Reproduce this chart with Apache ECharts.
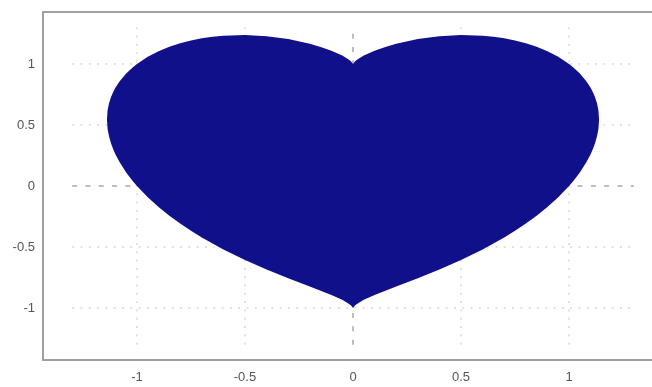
<!DOCTYPE html>
<html>
<head>
<meta charset="utf-8">
<script src="https://cdn.jsdelivr.net/npm/echarts@6/dist/echarts.min.js"></script>
<style>
html,body{margin:0;padding:0;background:#fff;}
#chart{width:652px;height:387px;}
</style>
</head>
<body>
<div id="chart"></div>
<script>
// Heart outline: right upper, right lower, left lower, left upper
const heartX = [
  0, 0.01, 0.02, 0.05, 0.1, 0.15, 0.2, 0.3, 0.4, 0.5, 0.6, 0.65, 0.7, 0.75, 0.8, 0.85, 0.9, 0.95, 1.0, 1.02, 1.05, 1.08, 1.1, 1.11, 1.12, 1.13, 1.136, 1.139,
  1.136, 1.13, 1.12, 1.11, 1.1, 1.08, 1.05, 1.02, 1.0, 0.95, 0.9, 0.85, 0.8, 0.75, 0.7, 0.65, 0.6, 0.5, 0.4, 0.3, 0.2, 0.15, 0.1, 0.05, 0.02, 0.01, 0,
  -0.01, -0.02, -0.05, -0.1, -0.15, -0.2, -0.3, -0.4, -0.5, -0.6, -0.65, -0.7, -0.75, -0.8, -0.85, -0.9, -0.95, -1.0, -1.02, -1.05, -1.08, -1.1, -1.11, -1.12, -1.13, -1.136, -1.139,
  -1.136, -1.13, -1.12, -1.11, -1.1, -1.08, -1.05, -1.02, -1.0, -0.95, -0.9, -0.85, -0.8, -0.75, -0.7, -0.65, -0.6, -0.5, -0.4, -0.3, -0.2, -0.15, -0.1, -0.05, -0.02, -0.01
];
const heartY = [
  1.0, 1.023, 1.037, 1.069, 1.109, 1.140, 1.166, 1.204, 1.227, 1.237, 1.231, 1.223, 1.210, 1.192, 1.170, 1.141, 1.104, 1.059, 1.0, 0.972, 0.922, 0.859, 0.805, 0.771, 0.730, 0.674, 0.621, 0.545,
  0.468, 0.411, 0.349, 0.301, 0.261, 0.194, 0.111, 0.042, 0.0, -0.092, -0.172, -0.243, -0.308, -0.367, -0.422, -0.472, -0.520, -0.607, -0.684, -0.756, -0.824, -0.858, -0.893, -0.933, -0.964, -0.977, -1.0,
  -0.977, -0.964, -0.933, -0.893, -0.858, -0.824, -0.756, -0.684, -0.607, -0.520, -0.472, -0.422, -0.367, -0.308, -0.243, -0.172, -0.092, 0.0, 0.042, 0.111, 0.194, 0.261, 0.301, 0.349, 0.411, 0.468, 0.545,
  0.621, 0.674, 0.730, 0.771, 0.805, 0.859, 0.922, 0.972, 1.0, 1.059, 1.104, 1.141, 1.170, 1.192, 1.210, 1.223, 1.231, 1.237, 1.227, 1.204, 1.166, 1.140, 1.109, 1.069, 1.037, 1.023
];

// Axis ticks / labels
const xTicks = [-1, -0.5, 0, 0.5, 1];
const yTicks = [-1, -0.5, 0, 0.5, 1];
const gridTicks = [-1, -0.5, 0.5, 1];
const gridSpan = [-1.3, 1.3];
const xRange = [-1.435, 1.384];
const yRange = [-1.426, 1.426];

const series = [];
// dotted grid lines
gridTicks.forEach(t => {
  series.push({type:'line', silent:true, symbol:'none', z:1, animation:false,
    data:[[gridSpan[0], t],[gridSpan[1], t]],
    lineStyle:{color:'#c4c4c4', width:1, type:[2,6.3]}});
  series.push({type:'line', silent:true, symbol:'none', z:1, animation:false,
    data:[[t, gridSpan[0]],[t, gridSpan[1]]],
    lineStyle:{color:'#c4c4c4', width:1, type:[2,6.3]}});
});
// dashed lines through the origin
series.push({type:'line', silent:true, symbol:'none', z:1, animation:false,
  data:[[gridSpan[0], 0],[gridSpan[1], 0]],
  lineStyle:{color:'#a8a8a8', width:1.5, type:[5,8.3]}});
series.push({type:'line', silent:true, symbol:'none', z:1, animation:false,
  data:[[0, gridSpan[0]],[0, gridSpan[1]]],
  lineStyle:{color:'#a8a8a8', width:1.5, type:[5,8.3]}});

// heart polygon
series.push({
  type:'custom', coordinateSystem:'cartesian2d', z:5, animation:false,
  data:[[0,0]],
  encode:{x:0, y:1},
  renderItem:function(params, api){
    const pts = heartX.map((x,i)=>api.coord([x, heartY[i]]));
    return {type:'polygon', shape:{points:pts}, style:{fill:'#10108a', stroke:null}};
  }
});

const chart = echarts.init(document.getElementById('chart'), null, {renderer:'canvas'});
const labelStyle = {color:'#555', fontSize:13, fontFamily:'"Liberation Sans", Arial, sans-serif'};
const frameLine = {show:true, onZero:false, lineStyle:{color:'#a0a0a0', width:2}};
chart.setOption({
  animation:false,
  backgroundColor:'#fff',
  grid:{left:43, right:0, top:12, bottom:27, show:false},
  xAxis:[
    {type:'value', min:xRange[0], max:xRange[1], position:'bottom',
      axisLine:frameLine, axisTick:{show:false}, splitLine:{show:false},
      axisLabel:Object.assign({customValues:xTicks, margin:11}, labelStyle)},
    {type:'value', min:xRange[0], max:xRange[1], position:'top',
      axisLine:frameLine, axisTick:{show:false}, splitLine:{show:false},
      axisLabel:{show:false}}
  ],
  yAxis:{type:'value', min:yRange[0], max:yRange[1],
    axisLine:frameLine, axisTick:{show:false}, splitLine:{show:false},
    axisLabel:Object.assign({customValues:yTicks, margin:8}, labelStyle)},
  series:series
});
</script>
</body>
</html>
